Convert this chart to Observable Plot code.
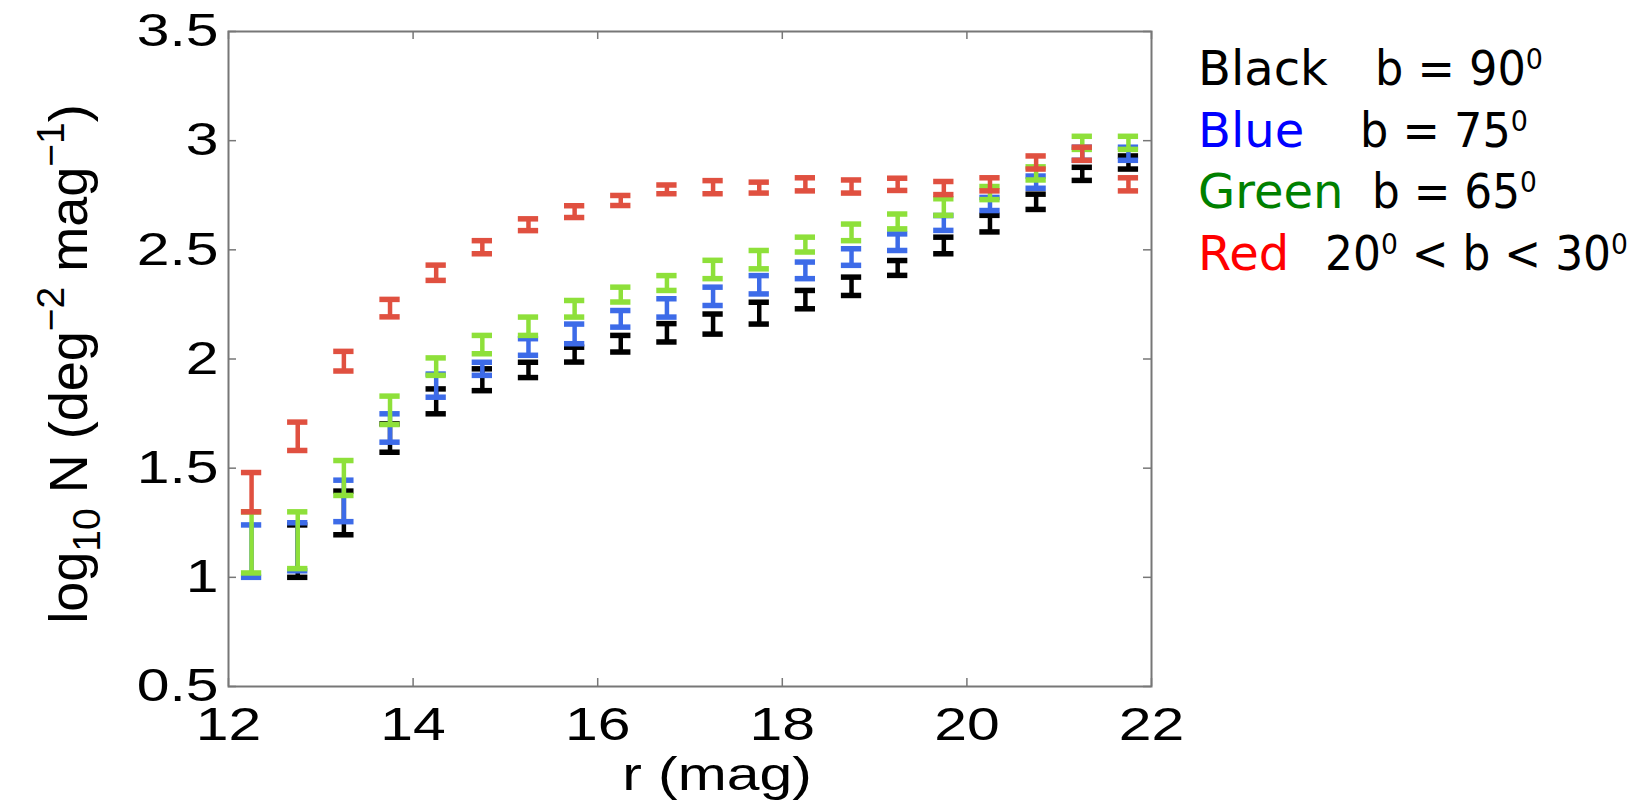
<!DOCTYPE html>
<html>
<head>
<meta charset="utf-8">
<script src="https://cdn.jsdelivr.net/npm/d3@7"></script>
<script src="https://cdn.jsdelivr.net/npm/@observablehq/plot@0.6"></script>
<style>
  html, body { margin: 0; padding: 0; background: #fff; }
  #chart { width: 1635px; height: 806px; }
</style>
</head>
<body>
<div id="chart"></div>
<script>
// Magnitude bins (r, mag)
const rMag = [12.25, 12.75, 13.25, 13.75, 14.25, 14.75, 15.25, 15.75, 16.25, 16.75,
              17.25, 17.75, 18.25, 18.75, 19.25, 19.75, 20.25, 20.75, 21.25, 21.75];

// log10 N counts and 1-sigma errors, one pair of arrays per latitude field
const blackLogN = [null, 1.12, 1.295, 1.638, 1.806, 1.905, 1.95, 2.02, 2.07, 2.12,
                   2.16, 2.21, 2.272, 2.333, 2.417, 2.52, 2.62, 2.72, 2.848, 2.90];
const blackErr  = [null, 0.12, 0.10, 0.065, 0.057, 0.05, 0.035, 0.034, 0.038, 0.042,
                   0.046, 0.05, 0.042, 0.042, 0.034, 0.038, 0.038, 0.035, 0.03, 0.03];

const blueLogN = [1.12, 1.14, 1.35, 1.684, 1.878, 1.955, 2.055, 2.115, 2.184, 2.234,
                  2.287, 2.34, 2.406, 2.467, 2.535, 2.623, 2.71, 2.81, 2.94, 2.94];
const blueErr  = [0.12, 0.11, 0.095, 0.065, 0.053, 0.03, 0.038, 0.045, 0.038, 0.042,
                  0.042, 0.042, 0.038, 0.038, 0.038, 0.034, 0.03, 0.028, 0.03, 0.03];

const greenLogN = [1.16, 1.17, 1.455, 1.765, 1.965, 2.066, 2.15, 2.23, 2.295, 2.348,
                   2.41, 2.455, 2.524, 2.58, 2.63, 2.696, 2.76, 2.85, 2.99, 2.99];
const greenErr  = [0.14, 0.13, 0.08, 0.065, 0.04, 0.042, 0.042, 0.038, 0.034, 0.034,
                   0.042, 0.042, 0.034, 0.038, 0.034, 0.038, 0.03, 0.03, 0.03, 0.03];

const redLogN = [1.39, 1.646, 1.99, 2.233, 2.395, 2.512, 2.615, 2.675, 2.726, 2.777,
                 2.787, 2.785, 2.80, 2.79, 2.80, 2.783, 2.80, 2.90, 2.94, 2.80];
const redErr  = [0.09, 0.065, 0.045, 0.04, 0.035, 0.03, 0.027, 0.027, 0.023, 0.02,
                 0.03, 0.025, 0.03, 0.03, 0.028, 0.03, 0.03, 0.03, 0.03, 0.03];

// Axis ticks
const xTicks = [12, 14, 16, 18, 20, 22];
const xTickLabels = ["12", "14", "16", "18", "20", "22"];
const yTicks = [0.5, 1, 1.5, 2, 2.5, 3, 3.5];
const yTickLabels = ["0.5", "1", "1.5", "2", "2.5", "3", "3.5"];

// Legend text: colour name, then the latitude condition split into
// [normal text, superscript] runs
const legendNames = ["Black", "Blue", "Green", "Red"];
const legendNameColors = ["#000000", "#0000ff", "#008000", "#ff0000"];
const legendConditions = [
  [["b = 90", "0"]],
  [["b = 75", "0"]],
  [["b = 65", "0"]],
  [["20", "0"], [" < b < 30", "0"]]
];

// Series in drawing order (green over blue over black, red on top)
const series = [
  {values: blackLogN, errors: blackErr, color: "#000000"},
  {values: blueLogN,  errors: blueErr,  color: "#3d6be8"},
  {values: greenLogN, errors: greenErr, color: "#8ee03a"},
  {values: redLogN,   errors: redErr,   color: "#e05040"}
];

const rowsOf = (s) => rMag
  .map((x, i) => ({x, y: s.values[i], e: s.errors[i]}))
  .filter(d => d.y != null);

const capHalf = 0.11;   // half cap width, in magnitudes
const errorBarMarks = series.flatMap(s => {
  const rows = rowsOf(s);
  return [
    Plot.ruleX(rows, {x: "x", y1: d => d.y - d.e, y2: d => d.y + d.e, stroke: s.color, strokeWidth: 4.5}),
    Plot.ruleY(rows, {y: d => d.y + d.e, x1: d => d.x - capHalf, x2: d => d.x + capHalf, stroke: s.color, strokeWidth: 5.5}),
    Plot.ruleY(rows, {y: d => d.y - d.e, x1: d => d.x - capHalf, x2: d => d.x + capHalf, stroke: s.color, strokeWidth: 5.5})
  ];
});

const W = 1635, H = 806;
const mL = 228, mR = 484, mT = 31, mB = 120;
const innerW = W - mL - mR, innerH = H - mT - mB;
const tickLen = 8;
const axisGrey = "#777";

const plot = Plot.plot({
  width: W, height: H,
  marginLeft: mL, marginRight: mR, marginTop: mT, marginBottom: mB,
  style: {fontFamily: "'Liberation Sans', Arial, Helvetica, sans-serif", fontSize: "46px", color: "#000", background: "#fff"},
  x: {domain: [12, 22], ticks: xTicks, tickFormat: d => xTickLabels[xTicks.indexOf(d)], tickSize: 0, tickPadding: 21, label: null},
  y: {domain: [0.5, 3.5], ticks: yTicks, tickFormat: d => yTickLabels[yTicks.indexOf(d)], tickSize: 0, tickPadding: 10, label: null},
  marks: [
    // inward ticks on all four sides of the box
    Plot.tickY(yTicks, {y: d => d, insetRight: innerW - tickLen, stroke: axisGrey, strokeWidth: 1.5}),
    Plot.tickY(yTicks, {y: d => d, insetLeft: innerW - tickLen, stroke: axisGrey, strokeWidth: 1.5}),
    Plot.tickX(xTicks, {x: d => d, insetTop: innerH - tickLen, stroke: axisGrey, strokeWidth: 1.5}),
    Plot.tickX(xTicks, {x: d => d, insetBottom: innerH - tickLen, stroke: axisGrey, strokeWidth: 1.5}),
    ...errorBarMarks,
    Plot.frame({stroke: axisGrey, strokeWidth: 2})
  ]
});

document.getElementById("chart").appendChild(plot);

const svg = d3.select(plot);

// Widen the tick labels horizontally about their anchor points
svg.selectAll('g[aria-label="x-axis tick label"] text, g[aria-label="y-axis tick label"] text').each(function () {
  const t = this.getAttribute("transform");
  if (t) {
    this.setAttribute("transform", t + " scale(1.28,1)");
  } else {
    const x = +(this.getAttribute("x") || 0), y = +(this.getAttribute("y") || 0);
    this.removeAttribute("x"); this.removeAttribute("y");
    this.setAttribute("transform", `translate(${x},${y}) scale(1.28,1)`);
  }
});

// x-axis title
svg.append("text")
  .attr("transform", "translate(717,790) scale(1.28,1)")
  .attr("text-anchor", "middle")
  .attr("font-family", "'Liberation Sans', Arial, sans-serif")
  .attr("font-size", 46)
  .attr("fill", "#000")
  .text("r (mag)");

// y-axis title with subscript and superscripts
const yTitle = svg.append("text")
  .attr("transform", "translate(87,364) rotate(-90)")
  .attr("text-anchor", "middle")
  .attr("font-family", "'Liberation Sans', Arial, sans-serif")
  .attr("font-size", 54)
  .attr("fill", "#000");
yTitle.append("tspan").text("log");
yTitle.append("tspan").attr("font-size", 39).attr("dy", 13).text("10");
yTitle.append("tspan").attr("dy", -13).text(" N (deg");
yTitle.append("tspan").attr("font-size", 39).attr("dy", -23).text("\u22122");
yTitle.append("tspan").attr("dy", 23).text(" mag");
yTitle.append("tspan").attr("font-size", 39).attr("dy", -23).text("\u22121");
yTitle.append("tspan").attr("dy", 23).text(")");

// Legend to the right of the axes
const legendFont = "'DejaVu Sans', 'Noto Sans', sans-serif";
const legendBaselines = [85, 147, 208, 270];
const conditionStart = [1375, 1360, 1372, 1325];
const conditionWidth = [168, 168, 165, 303];
const supRise = 16;
const legend = svg.append("g")
  .attr("font-family", legendFont)
  .attr("text-anchor", "start");
legendNames.forEach((name, i) => {
  const base = legendBaselines[i];
  legend.append("text")
    .attr("x", 1198).attr("y", base)
    .attr("text-anchor", "start")
    .attr("font-size", 48).attr("fill", legendNameColors[i])
    .text(name);
  const cond = legend.append("text")
    .attr("transform", `translate(${conditionStart[i]},${base})`)
    .attr("text-anchor", "start")
    .attr("font-size", 48)
    .attr("fill", "#000");
  legendConditions[i].forEach(([txt, sup], k) => {
    cond.append("tspan").attr("dy", k === 0 ? 0 : supRise).text(txt);
    cond.append("tspan").attr("font-size", 29).attr("dy", -supRise).text(sup);
  });
  // fit the condition to its measured run length
  const w = cond.node().getComputedTextLength();
  cond.attr("transform", `translate(${conditionStart[i]},${base}) scale(${conditionWidth[i] / w},1)`);
});
</script>
</body>
</html>
